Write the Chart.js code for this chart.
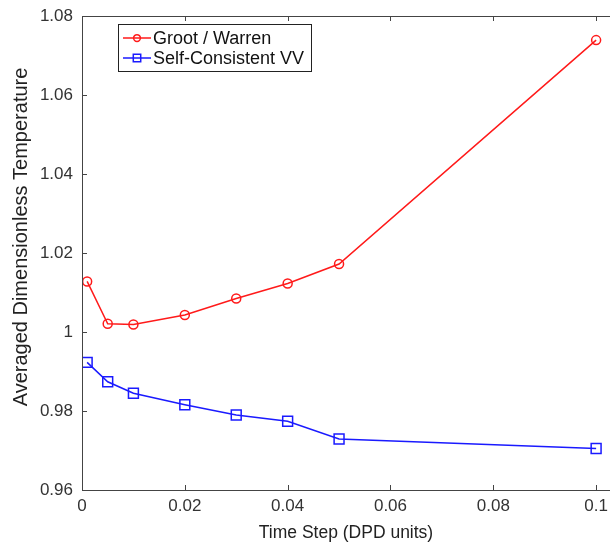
<!DOCTYPE html>
<html>
<head>
<meta charset="utf-8">
<script src="https://cdn.jsdelivr.net/npm/chart.js@4.4.1/dist/chart.umd.min.js"></script>
<style>
  html, body { margin: 0; padding: 0; background: #fff; }
  #wrap { width: 610px; height: 544px; }
</style>
</head>
<body>
<div id="wrap"><canvas id="tempChart"></canvas></div>
<script>
// Time steps (DPD units)
const timeSteps = [0.001, 0.005, 0.01, 0.02, 0.03, 0.04, 0.05, 0.1];
// Averaged dimensionless temperature for each integrator
const grootWarren = [1.0128, 1.0021, 1.0019, 1.0043, 1.0085, 1.0123, 1.0172, 1.0739];
const selfConsistentVV = [0.9923, 0.9874, 0.9845, 0.9816, 0.9790, 0.9774, 0.9729, 0.9705];
const xTicks = [0, 0.02, 0.04, 0.06, 0.08, 0.1];
const yTitle = 'Averaged Dimensionless Temperature';

const FONT = 'Liberation Sans, Arial, sans-serif';

const toPoints = (ys) => timeSteps.map((x, i) => ({ x: x, y: ys[i] }));

// no extra room for overhanging tick labels, the plot box is fixed
const noPadding = () => ({ left: 0, top: 0, right: 0, bottom: 0 });

// frame, inward tick marks, y label and the boxed legend, drawn the matlab way
const framePlugin = {
    id: 'frame',
    afterDraw(chart) {
        const { ctx, chartArea: a, scales } = chart;
        ctx.save();
        ctx.strokeStyle = '#444';
        ctx.lineWidth = 1;
        ctx.strokeRect(a.left + 0.5, a.top + 0.5, a.right - a.left, a.bottom - a.top);
        ctx.beginPath();
        scales.x.ticks.forEach(t => {
            const px = Math.round(scales.x.getPixelForValue(t.value)) + 0.5;
            ctx.moveTo(px, a.bottom); ctx.lineTo(px, a.bottom - 5);
            ctx.moveTo(px, a.top); ctx.lineTo(px, a.top + 5);
        });
        // right side of the box is cropped off in the original, left ticks only
        scales.y.ticks.forEach(t => {
            const py = Math.round(scales.y.getPixelForValue(t.value)) + 0.5;
            ctx.moveTo(a.left, py); ctx.lineTo(a.left + 5, py);
        });
        ctx.stroke();

        // y axis label (sits a bit above the middle in the original)
        ctx.save();
        ctx.translate(21, 237);
        ctx.rotate(-Math.PI / 2);
        ctx.font = '20px ' + FONT;
        ctx.fillStyle = '#222';
        ctx.textAlign = 'center';
        ctx.textBaseline = 'middle';
        ctx.fillText(yTitle, 0, 0);
        ctx.restore();

        // legend box
        const bx = 118.5, by = 24.5, bw = 193, bh = 47;
        ctx.fillStyle = '#fff';
        ctx.fillRect(bx, by, bw, bh);
        ctx.strokeStyle = '#222';
        ctx.strokeRect(bx, by, bw, bh);
        ctx.font = '18px ' + FONT;
        ctx.textBaseline = 'middle';
        chart.data.datasets.forEach((ds, i) => {
            const y = 38 + i * 20;
            ctx.strokeStyle = ds.borderColor;
            ctx.fillStyle = 'rgba(0,0,0,0)';
            ctx.lineWidth = 1.5;
            ctx.beginPath();
            ctx.moveTo(123, y); ctx.lineTo(151, y);
            ctx.stroke();
            Chart.helpers.drawPoint(ctx, {
                pointStyle: ds.pointStyle, radius: ds.pointRadius * 0.75, borderWidth: 1.5
            }, 137, y);
            ctx.fillStyle = '#111';
            ctx.fillText(ds.label, 153, y + 1);
        });
        ctx.restore();
    }
};

new Chart(document.getElementById('tempChart'), {
    type: 'line',
    data: {
        datasets: [{
            label: 'Groot / Warren',
            data: toPoints(grootWarren),
            borderColor: '#ff1a1a',
            backgroundColor: 'rgba(0,0,0,0)',
            borderWidth: 1.5,
            pointStyle: 'circle',
            pointRadius: 4.5,
            pointBorderWidth: 1.5,
            tension: 0
        }, {
            label: 'Self-Consistent VV',
            data: toPoints(selfConsistentVV),
            borderColor: '#1a1aff',
            backgroundColor: 'rgba(0,0,0,0)',
            borderWidth: 1.5,
            pointStyle: 'rect',
            pointRadius: 7,
            pointBorderWidth: 1.5,
            tension: 0
        }]
    },
    options: {
        responsive: true,
        maintainAspectRatio: false,
        animation: false,
        layout: { autoPadding: false, padding: { top: 16, right: 0, left: 0, bottom: 0 } },
        plugins: {
            legend: { display: false },
            tooltip: { enabled: false }
        },
        scales: {
            x: {
                type: 'linear',
                min: 0,
                max: 0.1027,
                afterBuildTicks: (axis) => { axis.ticks = xTicks.map(v => ({ value: v })); },
                afterFit: (axis) => {
                    axis.height = 54;
                    axis.paddingLeft = axis.paddingRight = 0;
                    axis.getPadding = noPadding;
                },
                grid: { display: false, drawTicks: false },
                border: { display: false },
                ticks: {
                    color: '#333',
                    font: { family: FONT, size: 17 },
                    padding: 6,
                    maxRotation: 0,
                    callback: (v) => String(Number(v.toFixed(2)))
                },
                title: {
                    display: true,
                    text: 'Time Step (DPD units)',
                    color: '#222',
                    font: { family: FONT, size: 17.5 },
                    padding: { top: 0, bottom: 0 }
                }
            },
            y: {
                min: 0.96,
                max: 1.08,
                afterFit: (axis) => {
                    axis.width = 82;
                    axis.paddingTop = axis.paddingBottom = 0;
                    axis.getPadding = noPadding;
                },
                grid: { display: false, drawTicks: false },
                border: { display: false },
                ticks: {
                    stepSize: 0.02,
                    color: '#333',
                    font: { family: FONT, size: 17 },
                    padding: 9,
                    callback: (v) => String(Number(v.toFixed(2)))
                }
            }
        }
    },
    plugins: [framePlugin]
});
</script>
</body>
</html>
